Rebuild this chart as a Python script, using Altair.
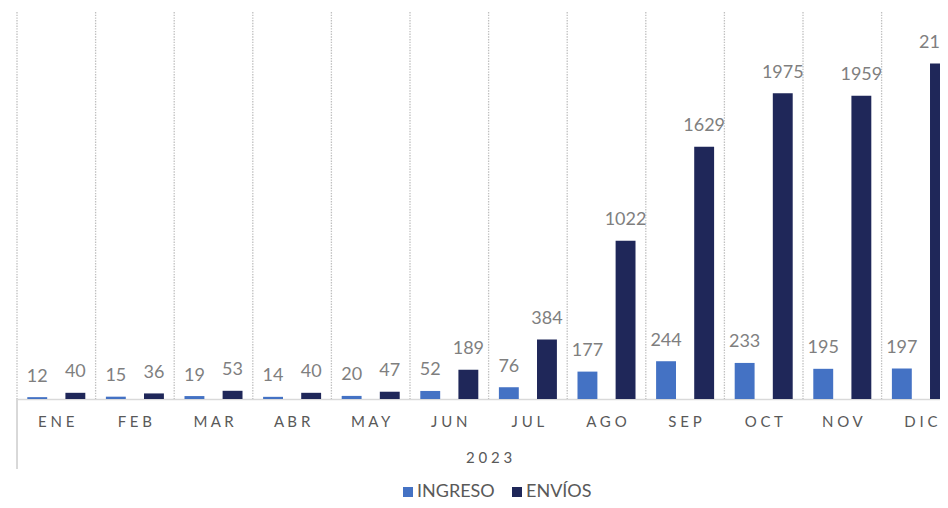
import altair as alt
import pandas as pd

months = ["ENE", "FEB", "MAR", "ABR", "MAY", "JUN", "JUL", "AGO", "SEP", "OCT", "NOV", "DIC"]
series = ["INGRESO", "ENVÍOS"]
ingreso = [12, 15, 19, 14, 20, 52, 76, 177, 244, 233, 195, 197]
envios = [40, 36, 53, 40, 47, 189, 384, 1022, 1629, 1975, 1959, 2168]
year_label = "2023"

rows = []
for m, a, b in zip(months, ingreso, envios):
    rows.append({"mes": m, "serie": "INGRESO", "valor": a})
    rows.append({"mes": m, "serie": "ENVÍOS", "valor": b})
df = pd.DataFrame(rows)
df_months = pd.DataFrame({"mes": months})

H = 387
W = 923
xscale = alt.Scale(domain=months, range=[0, 943.2], paddingInner=0, paddingOuter=0)
xaxis = alt.Axis(
    title=" ".join(year_label), titleFont="Lato", titleFontSize=15, titleFontWeight="normal",
    titleColor="#595959", titlePadding=21,
    labelFont="Lato", labelFontSize=15, labelColor="#595959", labelPadding=15,
    labelAngle=0,
    labelExpr="join(split(datum.label, ''), ' ')",
    ticks=False, grid=False, domainColor="#d9d9d9", domainWidth=1.6,
)
xoff = alt.XOffset("serie:N", sort=series,
                   scale=alt.Scale(domain=series, paddingInner=0.478, paddingOuter=0.27))
yenc = alt.Y("valor:Q", scale=alt.Scale(domain=[0, 2500]), axis=None)

grid = alt.Chart(df_months).mark_rule(
    color="#bfbfbf", strokeWidth=1.3, strokeDash=[1.4, 1.3]
).encode(
    x=alt.X("mes:N", sort=months, scale=xscale, axis=xaxis, bandPosition=0),
    y=alt.value(0),
    y2=alt.value(H),
)

bars = alt.Chart(df).mark_bar().encode(
    x=alt.X("mes:N", sort=months, scale=xscale, axis=xaxis),
    xOffset=xoff,
    y=yenc,
    color=alt.Color(
        "serie:N", sort=series,
        scale=alt.Scale(domain=series, range=["#4472C4", "#1F2759"]),
        legend=alt.Legend(
            title=None, orient="none", direction="horizontal",
            legendX=382, legendY=471, padding=0,
            symbolType="square", symbolSize=100, symbolStrokeWidth=0,
            labelFont="Lato", labelFontSize=18, labelColor="#595959",
            labelOffset=0, columnPadding=13,
        ),
    ),
)

labels = alt.Chart(df).mark_text(
    font="Lato", fontSize=18, color="#7f7f7f", baseline="alphabetic", dy=-15.5
).encode(
    x=alt.X("mes:N", sort=months, scale=xscale, axis=xaxis),
    xOffset=xoff,
    y=yenc,
    text=alt.Text("valor:Q"),
)

sep = alt.Chart(df_months).mark_rule(color="#d9d9d9", strokeWidth=1.6).encode(
    x=alt.value(0),
    y=alt.value(H),
    y2=alt.value(H + 70),
)

chart = alt.layer(grid, bars, labels, sep).properties(
    width=W, height=H,
    autosize=alt.AutoSizeParams(type="none"),
    padding={"left": 9, "top": 4, "right": 0, "bottom": 101},
).configure_view(stroke=None)

chart.save("out.html", embed_options={"renderer": "svg", "actions": False})
